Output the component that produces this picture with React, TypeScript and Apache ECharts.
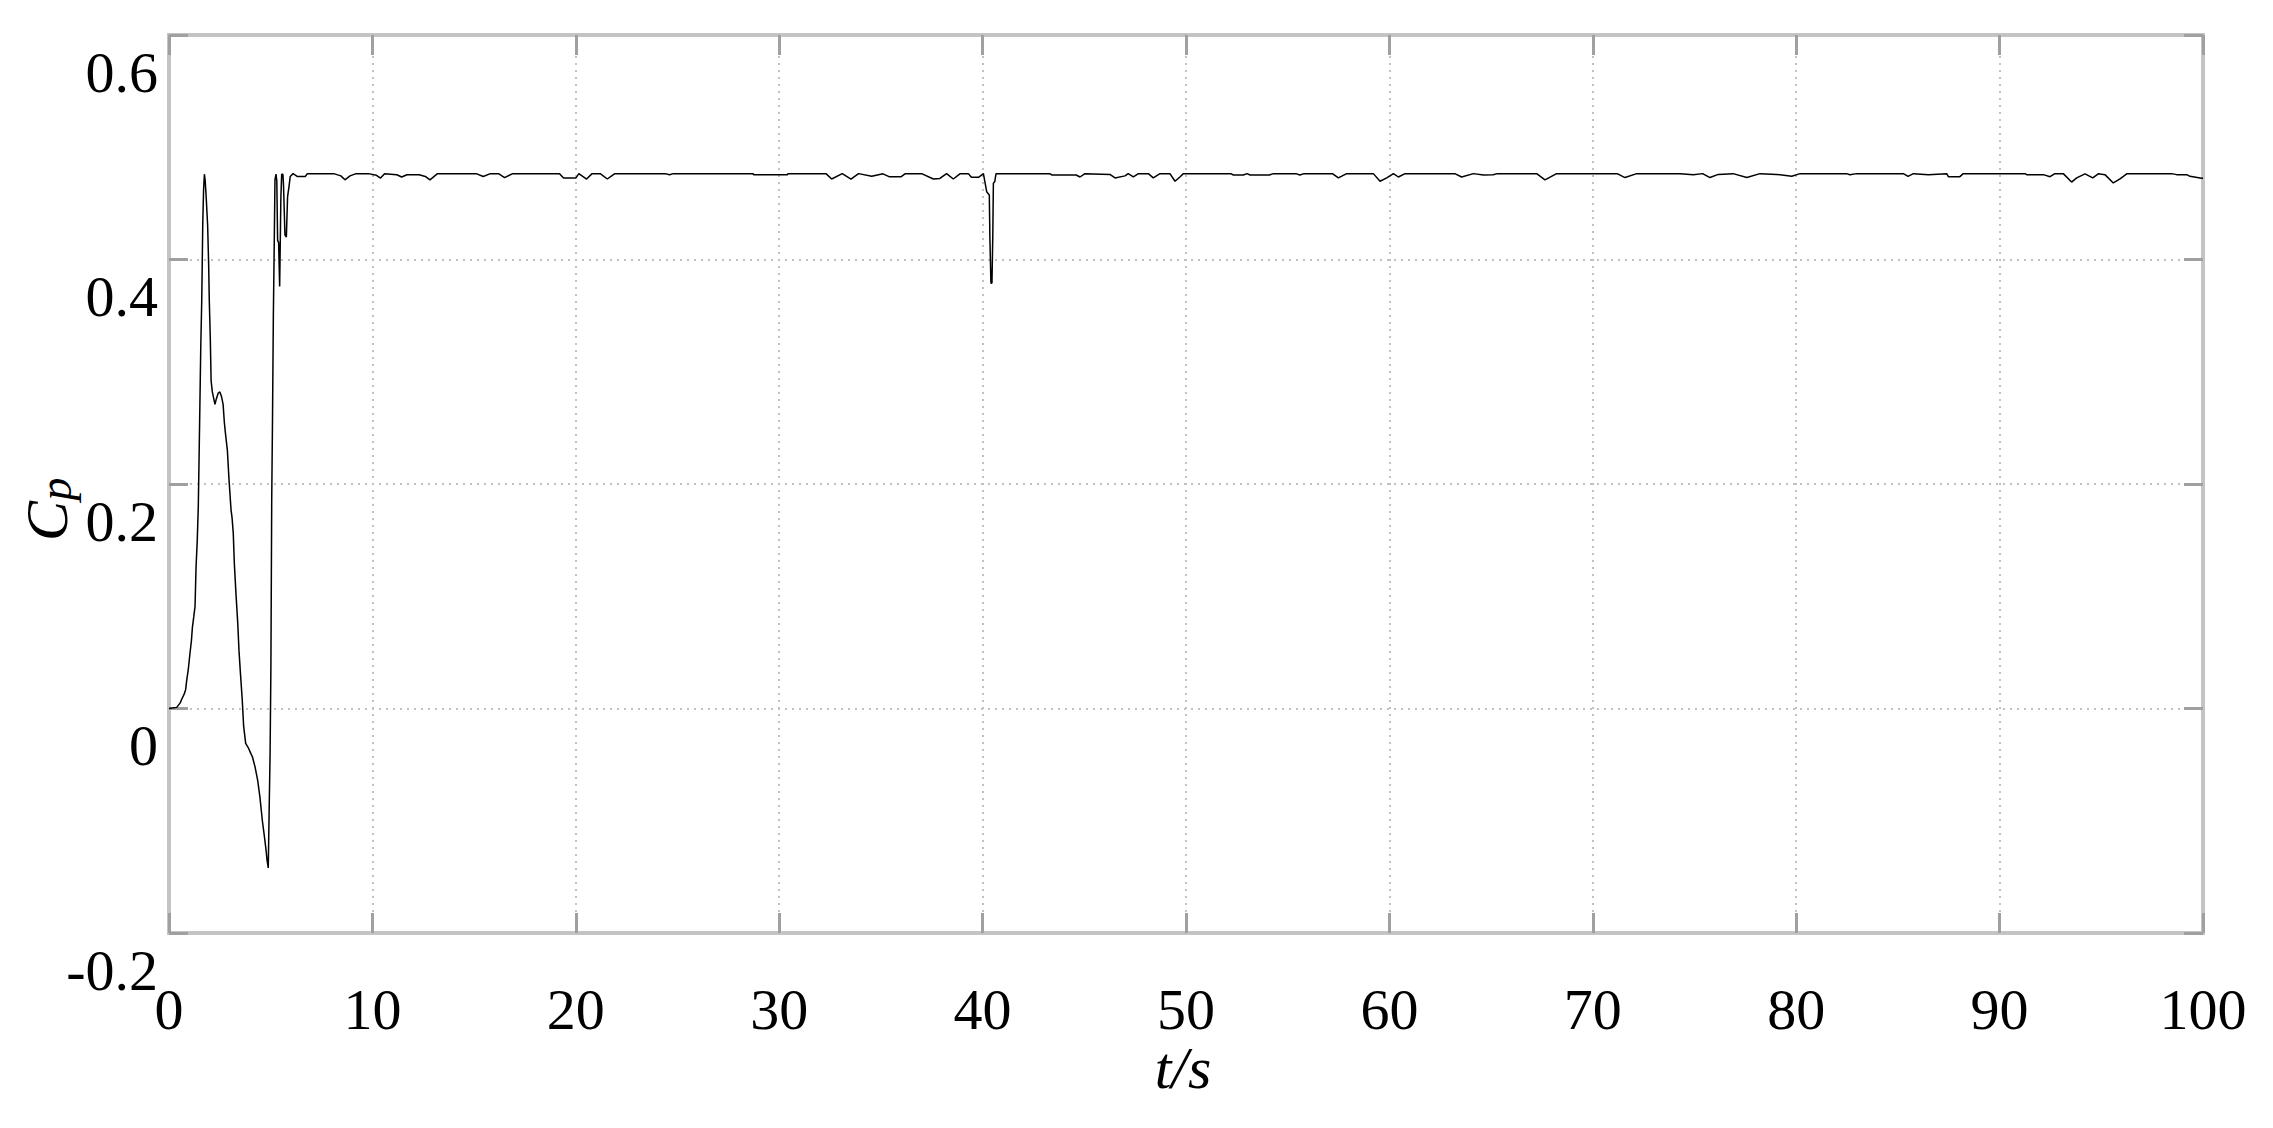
import React, { useEffect, useRef } from "react";
import * as echarts from "echarts";

// t [s], Cp : start-up transient
const startSegment: [number, number][] = [
  [0, 0], [0.38, 0.001], [0.55, 0.005], [0.62, 0.008], [0.75, 0.013], [0.82, 0.017],
  [0.87, 0.025], [0.95, 0.035], [1.03, 0.049], [1.10, 0.060], [1.15, 0.072], [1.22, 0.082],
  [1.28, 0.091], [1.33, 0.126], [1.39, 0.150], [1.44, 0.180], [1.48, 0.225], [1.52, 0.272],
  [1.56, 0.320], [1.61, 0.364], [1.66, 0.432], [1.70, 0.462], [1.74, 0.476], [1.78, 0.470],
  [1.83, 0.455], [1.90, 0.430], [1.95, 0.395], [1.98, 0.364], [2.03, 0.330], [2.07, 0.292],
  [2.13, 0.282], [2.20, 0.276], [2.26, 0.271], [2.33, 0.276], [2.42, 0.281], [2.50, 0.282],
  [2.58, 0.278], [2.66, 0.271], [2.72, 0.255], [2.77, 0.246], [2.87, 0.230], [2.95, 0.204],
  [3.05, 0.177], [3.10, 0.170], [3.16, 0.156], [3.21, 0.130], [3.29, 0.103], [3.38, 0.076],
  [3.44, 0.052], [3.51, 0.032], [3.60, 0.008], [3.67, -0.016], [3.77, -0.031], [3.90, -0.035],
  [4.02, -0.040], [4.10, -0.043], [4.23, -0.052], [4.36, -0.064], [4.47, -0.079], [4.59, -0.100],
  [4.69, -0.114], [4.77, -0.126], [4.82, -0.135], [4.88, -0.142], [4.92, -0.095], [4.97, -0.040],
  [5.01, 0.037], [5.05, 0.186], [5.09, 0.260], [5.13, 0.349], [5.17, 0.408], [5.21, 0.471],
  [5.26, 0.476], [5.30, 0.470], [5.34, 0.417], [5.39, 0.415], [5.44, 0.376], [5.47, 0.415],
  [5.50, 0.455], [5.54, 0.476], [5.60, 0.476], [5.63, 0.466], [5.70, 0.422], [5.77, 0.420],
  [5.83, 0.456], [5.90, 0.465], [5.96, 0.474], [6.10, 0.4765], [6.30, 0.474], [6.70, 0.474],
];

// t [s], Cp : steady operation
const steadySegment: [number, number][] = [
  [6.8, 0.4765], [8.1, 0.4765], [8.45, 0.4745], [8.65, 0.471], [8.9, 0.4745], [9.2, 0.4765],
  [9.8, 0.4765], [10.2, 0.475], [10.4, 0.4725], [10.6, 0.4765], [11.2, 0.4755], [11.44, 0.4735],
  [11.7, 0.4755], [12.3, 0.4755], [12.6, 0.474], [12.83, 0.471], [13.2, 0.4765], [15.1, 0.4765],
  [15.45, 0.474], [15.8, 0.4765], [16.2, 0.4765], [16.5, 0.473], [16.9, 0.4765], [19.2, 0.4765],
  [19.4, 0.4725], [20.0, 0.4725], [20.15, 0.4765], [20.53, 0.4717], [20.8, 0.4765], [21.2, 0.4765],
  [21.55, 0.4717], [21.9, 0.4763], [24.4, 0.4765], [24.6, 0.4755], [24.8, 0.4765], [28.7, 0.4765],
  [28.75, 0.4756], [30.4, 0.4756], [30.45, 0.4765], [32.3, 0.4765], [32.58, 0.4717], [33.1, 0.4765],
  [33.53, 0.4717], [33.9, 0.4765], [34.55, 0.4741], [35.1, 0.4763], [35.4, 0.4738], [36.0, 0.4738],
  [36.2, 0.4765], [37.0, 0.4765], [37.58, 0.4717], [37.9, 0.4722], [38.23, 0.4765], [38.56, 0.4717],
  [38.9, 0.4765], [39.3, 0.4765], [39.45, 0.4732], [39.8, 0.4732], [40.04, 0.4765], [40.2, 0.4604],
  [40.33, 0.4575], [40.36, 0.4174], [40.41, 0.3788], [40.46, 0.379], [40.5, 0.42], [40.53, 0.468],
  [40.6, 0.4695], [40.66, 0.4765], [43.3, 0.4765], [43.4, 0.4753], [44.6, 0.4753], [44.79, 0.4735],
  [45.03, 0.4765], [46.26, 0.4758], [46.51, 0.4727], [47.0, 0.4745], [47.16, 0.4765], [47.41, 0.4735],
  [47.66, 0.4765], [48.15, 0.4765], [48.39, 0.4727], [48.72, 0.4765], [49.21, 0.4765], [49.46, 0.4697],
  [49.7, 0.4735], [49.87, 0.4765], [52.2, 0.4765], [52.33, 0.4753], [52.82, 0.4753], [53.0, 0.4765],
  [53.15, 0.4753], [54.1, 0.4753], [54.3, 0.4765], [55.4, 0.4765], [55.6, 0.4753], [55.8, 0.4765],
  [57.2, 0.4765], [57.49, 0.4727], [57.9, 0.4765], [59.21, 0.4765], [59.54, 0.4697], [59.87, 0.4727],
  [60.2, 0.4765], [60.44, 0.4735], [60.77, 0.4765], [63.22, 0.4765], [63.55, 0.4735], [64.13, 0.4765],
  [64.62, 0.4753], [65.1, 0.4755], [65.3, 0.4765], [67.24, 0.4765], [67.65, 0.471], [68.22, 0.4765],
  [71.2, 0.4765], [71.58, 0.473], [72.16, 0.4765], [74.29, 0.4765], [74.94, 0.4755], [75.4, 0.4765],
  [75.76, 0.473], [76.17, 0.4758], [76.9, 0.4765], [77.57, 0.473], [78.22, 0.4765], [79.04, 0.4758],
  [79.78, 0.4742], [80.19, 0.4765], [82.48, 0.4765], [82.64, 0.4755], [82.97, 0.4765], [85.27, 0.4765],
  [85.5, 0.474], [85.76, 0.4765], [86.5, 0.4756], [87.4, 0.4765], [87.48, 0.4738], [88.05, 0.4738],
  [88.21, 0.4765], [91.25, 0.4765], [91.33, 0.4756], [92.15, 0.4756], [92.48, 0.4738], [92.72, 0.4765],
  [93.13, 0.4765], [93.54, 0.469], [93.79, 0.4727], [94.2, 0.4763], [94.58, 0.4727], [94.85, 0.4763],
  [95.18, 0.4756], [95.59, 0.4682], [95.92, 0.4718], [96.25, 0.4763], [98.46, 0.4765], [98.7, 0.4756],
  [99.2, 0.4756], [99.36, 0.4741], [99.93, 0.4723], [100, 0.4723],
];

const xRange = [0, 100];
const xStep = 10;
const yRange = [-0.2, 0.6];
const yStep = 0.2;
const xTitle = "t/s";
const yTitleMain = "C";
const yTitleSub = "p";

const FONT = '"Liberation Serif", "Times New Roman", serif';

export default function App() {
  const ref = useRef<HTMLDivElement>(null);

  useEffect(() => {
    if (!ref.current) return;
    const chart = echarts.init(ref.current, null, { renderer: "svg" });

    const tickStyle = { color: "#a0a0a0", width: 3 };
    const gridLine = { color: "#c2c2c2", width: 2, type: [2, 5] as number[] };

    chart.setOption({
      animation: false,
      backgroundColor: "#ffffff",
      grid: {
        left: 169,
        right: 70,
        top: 35,
        bottom: 195,
        show: true,
        borderColor: "#c4c4c4",
        borderWidth: 4,
        backgroundColor: "transparent",
        containLabel: false,
      },
      xAxis: [
        {
          type: "value",
          min: xRange[0],
          max: xRange[1],
          interval: xStep,
          position: "bottom",
          axisLine: { show: false, onZero: false },
          axisTick: { show: true, inside: true, length: 20, lineStyle: tickStyle },
          axisLabel: {
            show: true,
            margin: 47,
            color: "#000",
            fontFamily: FONT,
            fontSize: 58,
          },
          splitLine: { show: true, lineStyle: gridLine },
        },
        {
          type: "value",
          min: xRange[0],
          max: xRange[1],
          interval: xStep,
          position: "top",
          axisLine: { show: false, onZero: false },
          axisTick: { show: true, inside: true, length: 20, lineStyle: tickStyle },
          axisLabel: { show: false },
          splitLine: { show: false },
        },
      ],
      yAxis: [
        {
          type: "value",
          min: yRange[0],
          max: yRange[1],
          interval: yStep,
          position: "left",
          axisLine: { show: false, onZero: false },
          axisTick: { show: true, inside: true, length: 19, lineStyle: tickStyle },
          axisLabel: {
            show: true,
            margin: 11,
            color: "#000",
            fontFamily: FONT,
            fontSize: 58,
            verticalAlign: "top",
            lineHeight: 74,
            formatter: (v: number) => String(Math.round(v * 10) / 10),
          },
          splitLine: { show: true, lineStyle: gridLine },
        },
        {
          type: "value",
          min: yRange[0],
          max: yRange[1],
          interval: yStep,
          position: "right",
          axisLine: { show: false, onZero: false },
          axisTick: { show: true, inside: true, length: 19, lineStyle: tickStyle },
          axisLabel: { show: false },
          splitLine: { show: false },
        },
      ],
      graphic: [
        {
          type: "text",
          x: 1183,
          y: 1068,
          style: {
            text: xTitle,
            fontFamily: FONT,
            fontStyle: "italic",
            fontSize: 60,
            fill: "#000",
            align: "center",
            verticalAlign: "middle",
          },
        },
        {
          type: "group",
          x: 47,
          y: 511,
          rotation: Math.PI / 2,
          children: [
            {
              type: "text",
              x: -10,
              y: 0,
              style: {
                text: yTitleMain,
                fontFamily: FONT,
                fontStyle: "italic",
                fontSize: 60,
                fill: "#000",
                align: "center",
                verticalAlign: "middle",
              },
            },
            {
              type: "text",
              x: 22,
              y: 8,
              style: {
                text: yTitleSub,
                fontFamily: FONT,
                fontStyle: "italic",
                fontSize: 46,
                fill: "#000",
                align: "center",
                verticalAlign: "middle",
              },
            },
          ],
        },
      ],
      series: [
        {
          type: "line",
          xAxisIndex: 0,
          yAxisIndex: 0,
          data: [...startSegment, ...steadySegment],
          showSymbol: false,
          symbol: "none",
          lineStyle: { color: "#000000", width: 1.5 },
          z: 5,
        },
      ],
    });

    return () => chart.dispose();
  }, []);

  return (
    <div
      ref={ref}
      style={{ position: "absolute", left: 0, top: 0, width: 2273, height: 1128 }}
    />
  );
}
